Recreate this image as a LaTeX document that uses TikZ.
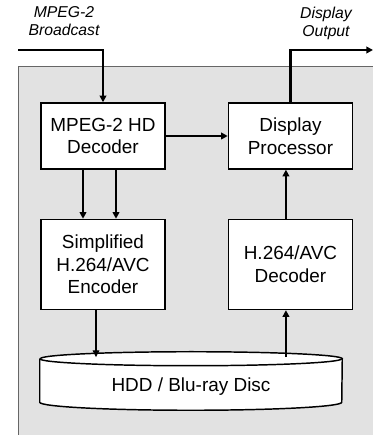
\documentclass[tikz,border=0pt]{standalone}
\usepackage{fontspec}
\setmainfont{Liberation Sans}
\usetikzlibrary{arrows.meta,positioning,calc,backgrounds}
\definecolor{PanelGray}{RGB}{226,226,226}

\begin{document}
\begin{tikzpicture}[
  x=0.75pt, y=0.75pt,
  >={Triangle[length=5pt,width=5pt]},
  blockbox/.style={rectangle, draw=black, line width=1.1pt, fill=white, align=center, inner sep=0pt, minimum width=93pt, font=\fontsize{14.2}{17}\selectfont},
  iolabel/.style={align=center, inner sep=0pt, font=\fontsize{11.8}{13.5}\selectfont\itshape},
  heavy/.style={->, line width=2pt},
  medium/.style={->, line width=1.3pt},
  light/.style={->, line width=0.8pt},
]
\useasboundingbox (0,0) rectangle (373,435);

\node[blockbox, minimum height=49.5pt] (mpeg) at (103,299) {MPEG-2 HD\\Decoder};
\node[blockbox, minimum height=49.5pt, right=46.5pt of mpeg] (disp) {Display\\Processor};
\node[blockbox, minimum height=67.5pt, below=36.75pt of mpeg] (enc) {Simplified\\H.264/AVC\\Encoder};
\node[blockbox, minimum height=67.5pt, below=36.75pt of disp] (dec) {H.264/AVC\\Decoder};
\node[rectangle, inner sep=0pt, minimum width=226.5pt, minimum height=43.5pt, font=\fontsize{14.2}{17}\selectfont] (disc) at (191,54) {\raisebox{-4.5pt}[\height][\depth]{HDD / Blu-ray Disc}};

\begin{scope}[on background layer]
% panel behind the blocks
\fill[PanelGray] (18,-5) rectangle (380,369);
\draw[black!60, line width=0.6pt] (18,-5) -- (18,369) -- (380,369);
% disc outline
\draw[line width=1.1pt, fill=white] ([yshift=-5.25pt]disc.north west) -- ([yshift=6pt]disc.south west)
  arc[start angle=180, end angle=360, x radius=151, y radius=8] -- ([yshift=-5.25pt]disc.north east)
  arc[start angle=0, end angle=180, x radius=151, y radius=7];
\draw[line width=1.1pt] ([yshift=-5.25pt]disc.north west) arc[start angle=180, end angle=360, x radius=151, y radius=7];
\end{scope}

\node[iolabel] (bcast) at (64,414) {MPEG-2\\Broadcast};
\node[iolabel] (dout) at (326,412) {Display\\Output};
\coordinate (bin) at (18,385);
\coordinate (out) at (373,385);

\draw[heavy] (bin) -| (mpeg.north);
\draw[heavy] (disp.north) |- (out);
\draw[medium] (mpeg) -- (disp);
\draw[heavy] ([xshift=-15pt]mpeg.south) -- ([xshift=-15pt]mpeg.south |- enc.north);
\draw[heavy] ([xshift=9.75pt]mpeg.south) -- ([xshift=9.75pt]mpeg.south |- enc.north);
\draw[light] ([xshift=-5.25pt]enc.south) -- ([xshift=-5.25pt,yshift=-4pt]enc.south |- disc.north);
\draw[medium] ([xshift=-3.4pt,yshift=-4pt]dec.south |- disc.north) -- ([xshift=-3.4pt]dec.south);
\draw[medium] ([xshift=-3.4pt]dec.north) -- ([xshift=-3.4pt]dec.north |- disp.south);
\end{tikzpicture}
\end{document}
